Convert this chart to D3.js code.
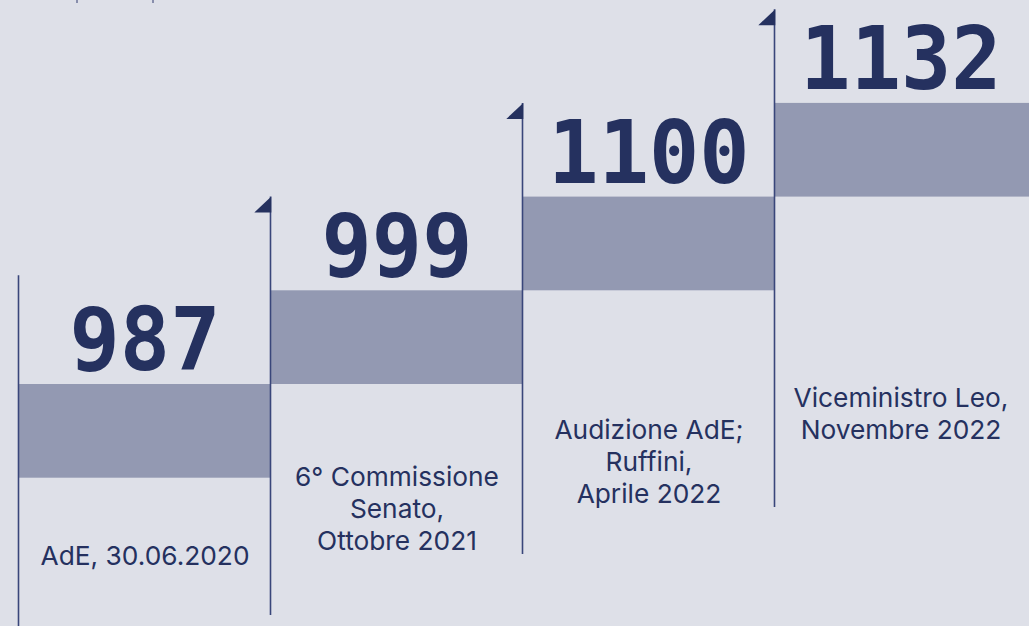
<!DOCTYPE html>
<html>
<head>
<meta charset="utf-8">
<script src="https://cdn.jsdelivr.net/npm/d3@7"></script>
<style>
  html, body { margin: 0; padding: 0; background: #dee0e8; overflow: hidden; }
  .value { font-family: "DejaVu Sans Mono", monospace; font-weight: bold; }
  .label { font-family: Inter, "Noto Sans", sans-serif; }
</style>
</head>
<body>
<div id="chart"></div>
<script>
// data
var values = [987, 999, 1100, 1132];
var sources = [
  ["AdE, 30.06.2020"],
  ["6° Commissione", "Senato,", "Ottobre 2021"],
  ["Audizione AdE;", "Ruffini,", "Aprile 2022"],
  ["Viceministro Leo,", "Novembre 2022"]
];

var width = 1029, height = 626;
var navy = "#25315f", lineColor = "#39467a", barColor = "#9399b2";

// layout bits (not data)
var stepH = 93.7;
var lineBottoms = [640, 615, 554, 507];
var labelTops = [565, 486, 439, 407];
var lineGap = 32;

var svg = d3.select("#chart").append("svg")
    .attr("width", width)
    .attr("height", height);

svg.append("rect")
    .attr("width", width)
    .attr("height", height)
    .attr("fill", "#dee0e8");

// cut-off marks at the top left
svg.selectAll(".stub")
    .data([77, 153])
    .enter().append("line")
    .attr("x1", function(d) { return d; })
    .attr("x2", function(d) { return d; })
    .attr("y1", 0).attr("y2", 3)
    .attr("stroke", "#6b7398")
    .attr("stroke-width", 1.5);

var idx = d3.range(values.length);

var x = d3.scaleBand()
    .domain(idx)
    .range([18, 1026])
    .padding(0);

// steps go up by rank, not by value
var y = d3.scaleLinear()
    .domain([0, values.length - 1])
    .range([384, 384 - stepH * (values.length - 1)]);

// bars
svg.selectAll(".bar")
    .data(values)
    .enter().append("rect")
    .attr("class", "bar")
    .attr("x", function(d, i) { return x(i); })
    .attr("y", function(d, i) { return y(i); })
    .attr("width", function(d, i) { return i == values.length - 1 ? width - x(i) : x.bandwidth(); })
    .attr("height", stepH)
    .attr("fill", barColor);

// vertical lines
svg.selectAll(".pole")
    .data(values)
    .enter().append("line")
    .attr("class", "pole")
    .attr("x1", function(d, i) { return x(i) + 0.5; })
    .attr("x2", function(d, i) { return x(i) + 0.5; })
    .attr("y1", function(d, i) { return i == 0 ? y(1) - 15 : y(i + 1); })
    .attr("y2", function(d, i) { return lineBottoms[i]; })
    .attr("stroke", lineColor)
    .attr("stroke-width", 1.6);

// flags (all but the first)
svg.selectAll(".flag")
    .data(values.slice(1))
    .enter().append("path")
    .attr("class", "flag")
    .attr("d", function(d, j) {
      var i = j + 1, px = x(i) + 1.3, top = y(i + 1);
      return "M" + px + "," + top + "L" + (px - 17) + "," + (top + 16) + "L" + px + "," + (top + 16) + "Z";
    })
    .attr("fill", navy);

// values, squeezed a little to match the narrower original face
svg.selectAll(".value")
    .data(values)
    .enter().append("text")
    .attr("class", "value")
    .attr("transform", function(d, i) {
      return "translate(" + (x(i) + x.bandwidth() / 2 + 1) + "," + (y(i) - 14) + ")scale(0.95,1)";
    })
    .attr("text-anchor", "middle")
    .attr("font-size", 88)
    .attr("fill", navy)
    .text(function(d) { return d; });

// source labels
var lab = svg.selectAll(".label")
    .data(sources)
    .enter().append("text")
    .attr("class", "label")
    .attr("text-anchor", "middle")
    .attr("font-size", 26.3)
    .attr("fill", navy);

lab.selectAll("tspan")
    .data(function(d, i) { return d.map(function(t) { return {t: t, i: i}; }); })
    .enter().append("tspan")
    .attr("x", function(d) { return x(d.i) + x.bandwidth() / 2 + 1; })
    .attr("y", function(d, k) { return labelTops[d.i] + k * lineGap; })
    .text(function(d) { return d.t; });
</script>
</body>
</html>
